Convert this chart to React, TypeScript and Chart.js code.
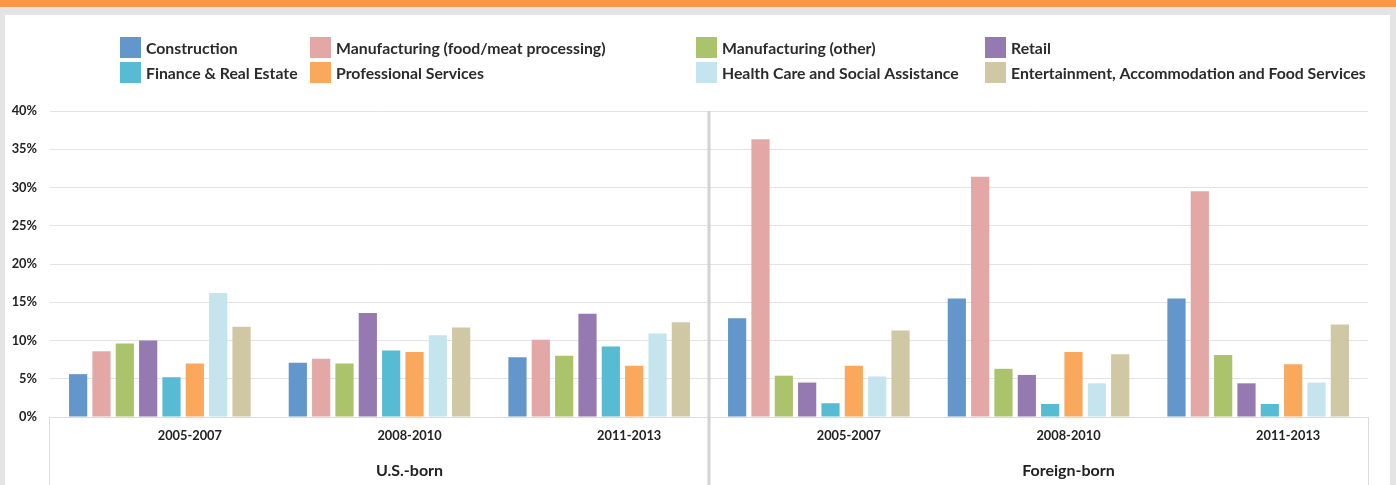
import React, { useEffect, useRef } from 'react';
import { Chart, registerables } from 'chart.js';

Chart.register(...registerables);

const categories = ['2005-2007', '2008-2010', '2011-2013', '2005-2007', '2008-2010', '2011-2013'];
const groups = ['U.S.-born', 'Foreign-born'];
const groupSizes = [3, 3];

const seriesNames = [
  'Construction',
  'Manufacturing (food/meat processing)',
  'Manufacturing (other)',
  'Retail',
  'Finance & Real Estate',
  'Professional Services',
  'Health Care and Social Assistance',
  'Entertainment, Accommodation and Food Services',
];
const seriesColors = ['#6396ca', '#e3a8a5', '#abc46c', '#957ab1', '#58bbd4', '#f9a85c', '#c4e5ee', '#d0c7a5'];

const construction = [5.6, 7.1, 7.8, 12.9, 15.5, 15.5];
const mfgFood = [8.6, 7.6, 10.1, 36.3, 31.4, 29.5];
const mfgOther = [9.6, 7.0, 8.0, 5.4, 6.3, 8.1];
const retail = [10.0, 13.6, 13.5, 4.5, 5.5, 4.4];
const finance = [5.2, 8.7, 9.2, 1.8, 1.7, 1.7];
const professional = [7.0, 8.5, 6.7, 6.7, 8.5, 6.9];
const health = [16.2, 10.7, 10.9, 5.3, 4.4, 4.5];
const entertainment = [11.8, 11.7, 12.4, 11.3, 8.2, 12.1];
const seriesValues = [construction, mfgFood, mfgOther, retail, finance, professional, health, entertainment];

const yMin = 0;
const yMax = 40;
const yStep = 5;

const FONT = 'Lato, "Noto Sans", "DejaVu Sans", sans-serif';

export default function App() {
  const ref = useRef<HTMLCanvasElement>(null);

  useEffect(() => {
    const canvas = ref.current;
    if (!canvas) return;

    const legendPlugin = {
      id: 'columnLegend',
      afterDraw(chart: any) {
        const ctx = chart.ctx;
        const colX = [120, 310, 696, 985];
        const rowY = [37, 62];
        ctx.save();
        ctx.font = `bold 15.8px ${FONT}`;
        ctx.textBaseline = 'middle';
        ctx.textAlign = 'left';
        chart.data.datasets.forEach((ds: any, i: number) => {
          const col = i % 4;
          const row = Math.floor(i / 4);
          const x = colX[col];
          const y = rowY[row];
          ctx.fillStyle = ds.backgroundColor;
          ctx.fillRect(x, y, 21, 21);
          ctx.fillStyle = '#2b2b2b';
          ctx.fillText(ds.label, x + 26, y + 12);
        });
        ctx.restore();
      },
    };

    const framePlugin = {
      id: 'groupFrame',
      afterDraw(chart: any) {
        const ctx = chart.ctx;
        const xs = chart.scales.x;
        const area = chart.chartArea;
        const h = chart.height;
        ctx.save();
        ctx.strokeStyle = '#dcdcdc';
        ctx.lineWidth = 1;
        ctx.beginPath();
        ctx.moveTo(Math.round(xs.left) - 0.5, area.bottom);
        ctx.lineTo(Math.round(xs.left) - 0.5, h);
        ctx.moveTo(Math.round(xs.right) + 0.5, area.bottom);
        ctx.lineTo(Math.round(xs.right) + 0.5, h);
        ctx.stroke();
        let start = 0;
        ctx.font = `bold 16px ${FONT}`;
        ctx.textAlign = 'center';
        ctx.textBaseline = 'middle';
        groups.forEach((g, gi) => {
          const end = start + groupSizes[gi] - 1;
          const center = (xs.getPixelForValue(start) + xs.getPixelForValue(end)) / 2;
          ctx.fillStyle = '#222';
          ctx.fillText(g, center + 30, 471);
          if (gi < groups.length - 1) {
            const dx = xs.getPixelForValue(end + 0.5);
            ctx.strokeStyle = '#d2d2d2';
            ctx.lineWidth = 3;
            ctx.beginPath();
            ctx.moveTo(dx, area.top);
            ctx.lineTo(dx, h);
            ctx.stroke();
          }
          start = end + 1;
        });
        ctx.restore();
      },
    };

    const chart = new Chart(canvas, {
      type: 'bar',
      data: {
        labels: categories,
        datasets: seriesNames.map((name, i) => ({
          label: name,
          data: seriesValues[i],
          backgroundColor: seriesColors[i],
          borderWidth: 0,
          categoryPercentage: 0.85,
          barPercentage: 0.78,
        })),
      },
      options: {
        responsive: false,
        animation: false,
        layout: { padding: { top: 111, left: 0, right: 28, bottom: 0 } },
        plugins: {
          legend: { display: false },
          tooltip: { enabled: false },
        },
        scales: {
          x: {
            grid: { display: false, drawTicks: false },
            border: { display: true, color: '#dcdcdc', width: 1 },
            ticks: {
              labelOffset: 30,
              padding: 11,
              maxRotation: 0,
              autoSkip: false,
              color: '#222',
              font: { family: FONT, size: 12.8, weight: 'bold' },
            },
            afterFit: (s: any) => {
              s.height = 68;
            },
          },
          y: {
            min: yMin,
            max: yMax,
            ticks: {
              stepSize: yStep,
              padding: 13,
              color: '#222',
              font: { family: FONT, size: 12.8, weight: 'bold' },
              callback: (v: any) => `${v}%`,
            },
            grid: { color: '#e3e3e3', drawTicks: false },
            border: { display: false },
            afterFit: (s: any) => {
              s.width = 50;
            },
          },
        },
      } as any,
      plugins: [legendPlugin, framePlugin],
    });

    return () => chart.destroy();
  }, []);

  return (
    <div
      style={{
        position: 'fixed',
        left: 0,
        top: 0,
        width: 1396,
        height: 485,
        background: '#e4e4e4',
        overflow: 'hidden',
      }}
    >
      <div style={{ position: 'absolute', left: 0, top: 0, width: 1396, height: 7, background: '#f99746' }} />
      <div style={{ position: 'absolute', left: 5, top: 15, width: 1385, height: 470, background: '#ffffff' }} />
      <canvas ref={ref} width={1396} height={485} style={{ position: 'absolute', left: 0, top: 0, display: 'block' }} />
    </div>
  );
}
